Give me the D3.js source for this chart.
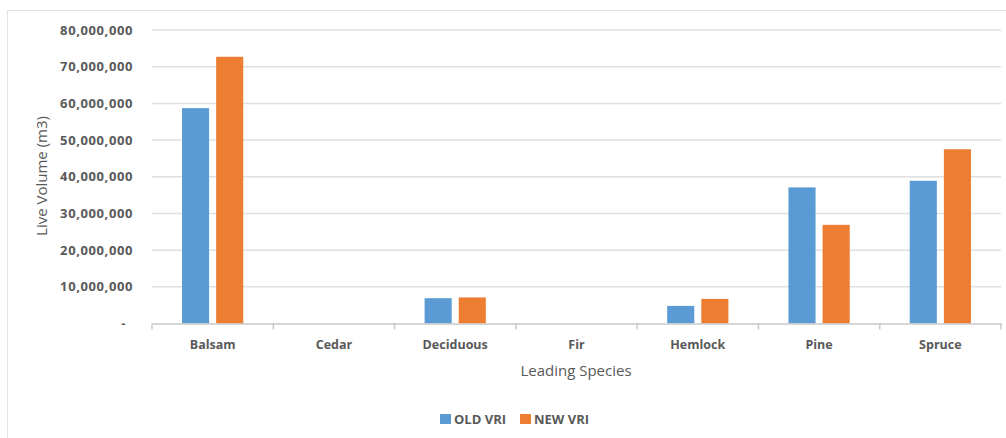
<!DOCTYPE html>
<html><head><meta charset="utf-8">
<script src="https://cdn.jsdelivr.net/npm/d3@7"></script>
<style>
html,body{margin:0;padding:0;background:#fff;}
svg{display:block;font-family:"Open Sans",sans-serif;}
</style></head>
<body>
<svg id="chart" width="1006" height="438"></svg>
<script>
const categories = ["Balsam","Cedar","Deciduous","Fir","Hemlock","Pine","Spruce"];
const seriesNames = ["OLD VRI","NEW VRI"];
const oldVRI = [58700000, 0, 6900000, 0, 4800000, 37100000, 38900000];
const newVRI = [72700000, 0, 7100000, 0, 6700000, 26900000, 47500000];
const yTicks = [0,10000000,20000000,30000000,40000000,50000000,60000000,70000000,80000000];
const colors = ["#5B9BD5","#ED7D31"];

(function(){
const svg = d3.select("#chart");
const pL = 152, pR = 1001, pT = 30, pB = 323.5;

// frame
svg.append("rect").attr("x",7.5).attr("y",10.5).attr("width",1010).attr("height",440)
  .attr("fill","none").attr("stroke","#e3e3e3").attr("stroke-width",1);

const x = d3.scaleBand().domain(categories).range([pL,pR]).paddingInner(0).paddingOuter(0);
const y = d3.scaleLinear().domain([0,80000000]).range([pB,pT]);
const series = [oldVRI,newVRI];
const x1 = d3.scaleBand().domain([0,1]).range([0,x.bandwidth()]).paddingInner(0.206).paddingOuter(0.88);

// gridlines
svg.append("g").selectAll("line").data(yTicks.filter(d=>d>0)).join("line")
  .attr("x1",pL).attr("x2",pR).attr("y1",d=>y(d)).attr("y2",d=>y(d))
  .attr("stroke","#e0e0e0").attr("stroke-width",1.5);

// y labels
const fmt = d => d===0 ? "-" : d3.format(",")(d);
svg.append("g").selectAll("text").data(yTicks).join("text")
  .attr("x",d=>d===0?126:133).attr("y",d=>y(d)).attr("dy","0.35em")
  .attr("text-anchor","end").attr("fill","#595959")
  .attr("font-size",13).attr("letter-spacing",0.6).attr("font-weight","bold").text(fmt);

// bars
const g = svg.append("g");
series.forEach((vals,si)=>{
  g.selectAll(null).data(vals.map((v,i)=>({c:categories[i],v}))).join("rect")
    .attr("x",d=>x(d.c)+x1(si)).attr("width",x1.bandwidth())
    .attr("y",d=>y(d.v)).attr("height",d=>pB-y(d.v))
    .attr("fill",colors[si]);
});

// x axis
const xAxis = d3.axisBottom(x).tickSize(0).tickFormat(d=>d);
const ax = svg.append("g").attr("transform",`translate(0,${pB})`).call(xAxis);
ax.select(".domain").attr("stroke","#c8c8c8").attr("stroke-width",1.5);
ax.selectAll("text").attr("dy",0).attr("y",25).attr("fill","#595959")
  .attr("font-size",12.5).attr("font-weight","bold").attr("font-family","Open Sans");
// category boundary ticks
svg.append("g").selectAll("line").data(categories.concat(["__end"])).join("line")
  .attr("x1",d=>d==="__end"?pR:x(d)).attr("x2",d=>d==="__end"?pR:x(d))
  .attr("y1",pB).attr("y2",pB+6).attr("stroke","#c8c8c8").attr("stroke-width",1.5);

// axis titles
svg.append("text").attr("transform","translate(47,176) rotate(-90)")
  .attr("text-anchor","middle").attr("fill","#595959").attr("font-size",15).text("Live Volume (m3)");
svg.append("text").attr("x",576).attr("y",376).attr("text-anchor","middle")
  .attr("fill","#595959").attr("font-size",15).text("Leading Species");

// legend
const legX = [440,520];
const lg = svg.append("g");
seriesNames.forEach((n,i)=>{
  lg.append("rect").attr("x",legX[i]).attr("y",414).attr("width",11).attr("height",10).attr("fill",colors[i]);
  lg.append("text").attr("x",legX[i]+14).attr("y",419).attr("dy","0.35em")
    .attr("fill","#595959").attr("font-size",13).attr("font-weight","bold").text(n);
});
})();
</script>
</body></html>
